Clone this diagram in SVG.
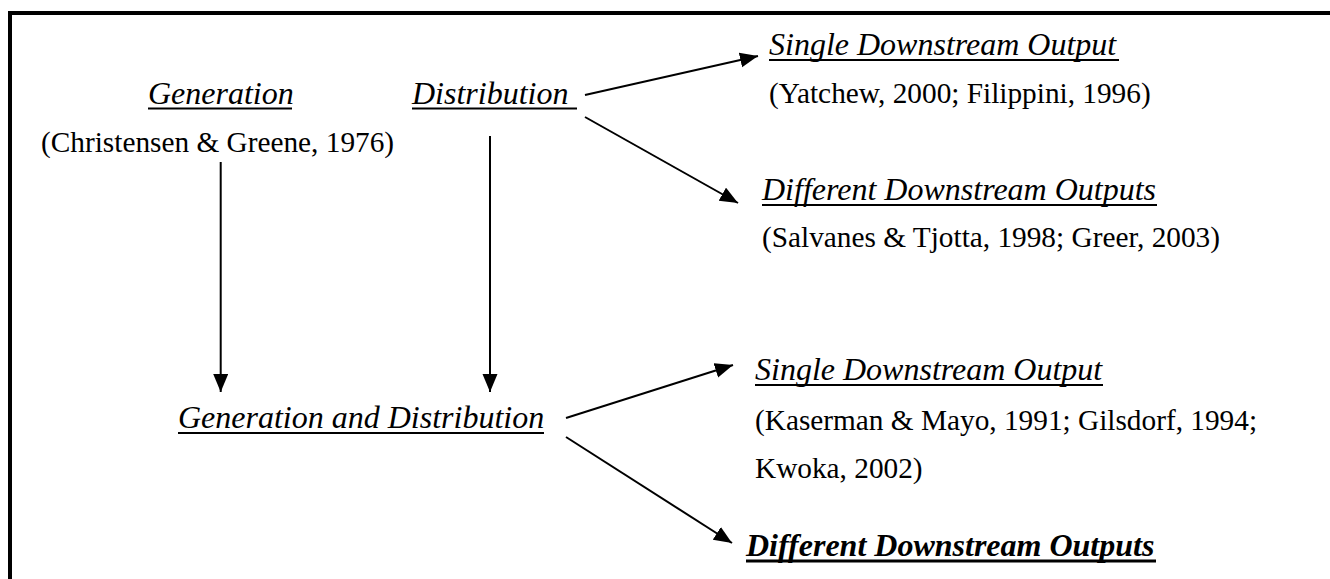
<svg xmlns="http://www.w3.org/2000/svg" width="1330" height="579" viewBox="0 0 1330 579">
<style>
text{font-family:'Liberation Serif','Times New Roman',Tinos,'DejaVu Serif',serif;fill:#000}
.it{font-style:italic;font-size:32px}
.bi{font-style:italic;font-weight:bold;font-size:32px}
.rg{font-size:29.3px}
.ul{stroke:#000;stroke-width:2}
.ulb{stroke:#000;stroke-width:3}
.conn line{stroke:#000;stroke-width:2;marker-end:url(#ah)}
</style>
<defs>
<marker id="ah" markerUnits="userSpaceOnUse" markerWidth="20" markerHeight="16" refX="18" refY="7.5" orient="auto">
<path d="M0,0 L18,7.5 L0,15 z" fill="#000"/>
</marker>
</defs>
<rect width="1330" height="579" fill="#fff"/>
<path d="M10,579 V13 H1330" fill="none" stroke="#000" stroke-width="4"/>
<g id="generation">
<text class="it" x="148" y="104">Generation</text>
<line class="ul" x1="148" y1="108.5" x2="292" y2="108.5"/>
<text class="rg" x="41" y="152">(Christensen &amp; Greene, 1976)</text>
</g>
<g id="distribution">
<text class="it" x="412" y="104">Distribution </text>
<line class="ul" x1="412" y1="108.5" x2="577" y2="108.5"/>
</g>
<g id="single-top">
<text class="it" x="769" y="55">Single Downstream Output</text>
<line class="ul" x1="769" y1="60" x2="1119" y2="60"/>
<text class="rg" x="769" y="103">(Yatchew, 2000; Filippini, 1996)</text>
</g>
<g id="different-top">
<text class="it" x="762" y="200">Different Downstream Outputs</text>
<line class="ul" x1="762" y1="205" x2="1157" y2="205"/>
<text class="rg" x="762" y="247">(Salvanes &amp; Tjotta, 1998; Greer, 2003)</text>
</g>
<g id="gen-and-dist">
<text class="it" x="178" y="428">Generation and Distribution</text>
<line class="ul" x1="178" y1="433" x2="544" y2="433"/>
</g>
<g id="single-bottom">
<text class="it" x="755" y="380">Single Downstream Output</text>
<line class="ul" x1="755" y1="385" x2="1103" y2="385"/>
<text class="rg" x="755" y="430">(Kaserman &amp; Mayo, 1991; Gilsdorf, 1994;</text>
<text class="rg" x="755" y="478">Kwoka, 2002)</text>
</g>
<g id="different-bottom">
<text class="bi" x="746" y="556">Different Downstream Outputs</text>
<line class="ulb" x1="746" y1="561" x2="1156" y2="561"/>
</g>
<g id="connectors" class="conn">
<line x1="220.7" y1="162" x2="220.7" y2="392"/>
<line x1="490" y1="136" x2="490" y2="392"/>
<line x1="585" y1="95" x2="758" y2="56"/>
<line x1="585" y1="117" x2="738" y2="203"/>
<line x1="566" y1="418" x2="733" y2="365"/>
<line x1="566" y1="437" x2="732" y2="543"/>
</g>
</svg>
